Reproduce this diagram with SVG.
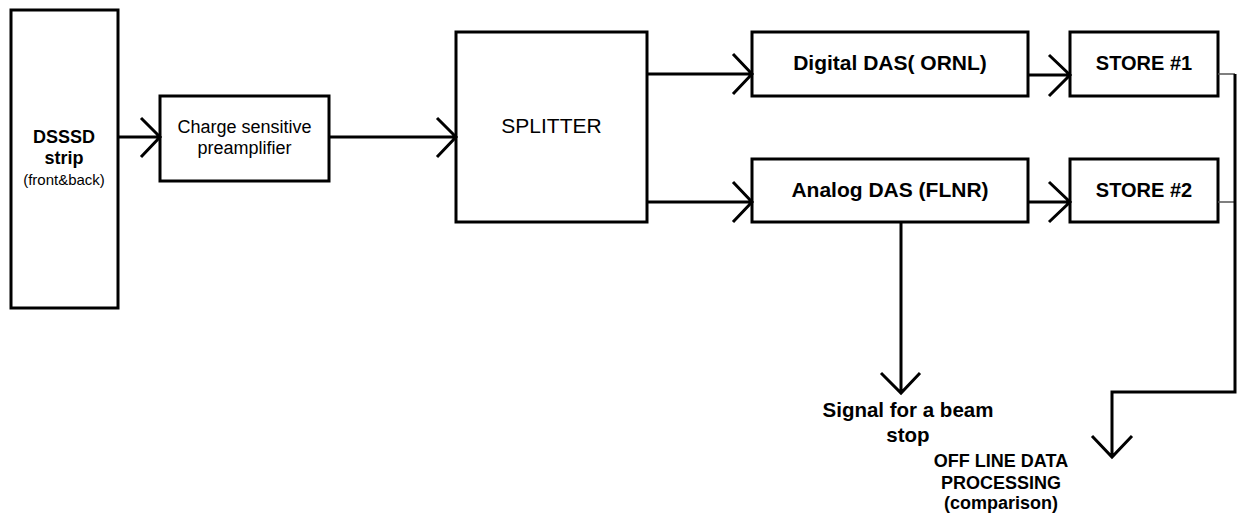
<svg xmlns="http://www.w3.org/2000/svg" width="1239" height="513" viewBox="0 0 1239 513">
<style>
.box{fill:#fff;stroke:#000;stroke-width:3}
.ln{fill:none;stroke:#000;stroke-width:3;stroke-linejoin:miter}
.thin{fill:none;stroke:#555;stroke-width:1.3}
.b{font-family:"Liberation Sans",Arial,sans-serif;font-weight:bold;fill:#000;text-anchor:middle}
.r{font-family:"Liberation Sans",Arial,sans-serif;fill:#000;text-anchor:middle}
</style>
<rect width="1239" height="513" fill="#fff"/>
<g id="dsssd">
<rect class="box" x="11" y="10" width="107" height="298"/>
<text class="b" x="64" y="143" font-size="18">DSSSD</text>
<text class="b" x="64" y="164" font-size="18">strip</text>
<text class="r" x="64" y="185" font-size="15">(front&amp;back)</text>
</g>
<g id="preamp">
<rect class="box" x="160" y="96" width="169" height="85"/>
<text class="r" x="244.5" y="133" font-size="18">Charge sensitive</text>
<text class="r" x="244.5" y="154" font-size="18">preamplifier</text>
</g>
<g id="splitter">
<rect class="box" x="456" y="32" width="191" height="190"/>
<text class="r" x="551.5" y="133" font-size="21">SPLITTER</text>
</g>
<g id="digital">
<rect class="box" x="752" y="32" width="276" height="64"/>
<text class="b" x="890" y="70" font-size="21">Digital DAS( ORNL)</text>
</g>
<g id="analog">
<rect class="box" x="752" y="159" width="276" height="63"/>
<text class="b" x="890" y="197" font-size="21">Analog DAS (FLNR)</text>
</g>
<g id="store1">
<rect class="box" x="1070" y="32" width="148" height="64"/>
<text class="b" x="1144" y="70" font-size="20">STORE #1</text>
</g>
<g id="store2">
<rect class="box" x="1070" y="159" width="148" height="63"/>
<text class="b" x="1144" y="197" font-size="20">STORE #2</text>
</g>
<g id="beamstop">
<text class="b" x="908" y="417" font-size="20.5">Signal for a beam</text>
<text class="b" x="908" y="442" font-size="20.5">stop</text>
</g>
<g id="offline">
<text class="b" x="1001" y="467" font-size="18">OFF LINE DATA</text>
<text class="b" x="1001" y="489" font-size="18">PROCESSING</text>
<text class="b" x="1001" y="509" font-size="18">(comparison)</text>
</g>
<g id="connectors">
<path class="ln" d="M118 137H160M141 118L160 137L141 157"/>
<path class="ln" d="M329 137H456M437 118L456 137L437 157"/>
<path class="ln" d="M647 74H752M733 54L752 74L733 94"/>
<path class="ln" d="M647 202H752M733 182L752 202L733 222"/>
<path class="ln" d="M1028 75H1070M1049 55L1070 75L1049 96"/>
<path class="ln" d="M1028 202H1070M1049 182L1070 202L1049 222"/>
<path class="ln" d="M901 222V393M881 373L901 393L920 373"/>
<path class="thin" d="M1218 74H1235M1218 202H1235"/>
<path class="ln" d="M1235 74V392H1112V457M1092 436L1112 457L1132 436"/>
</g>
</svg>
